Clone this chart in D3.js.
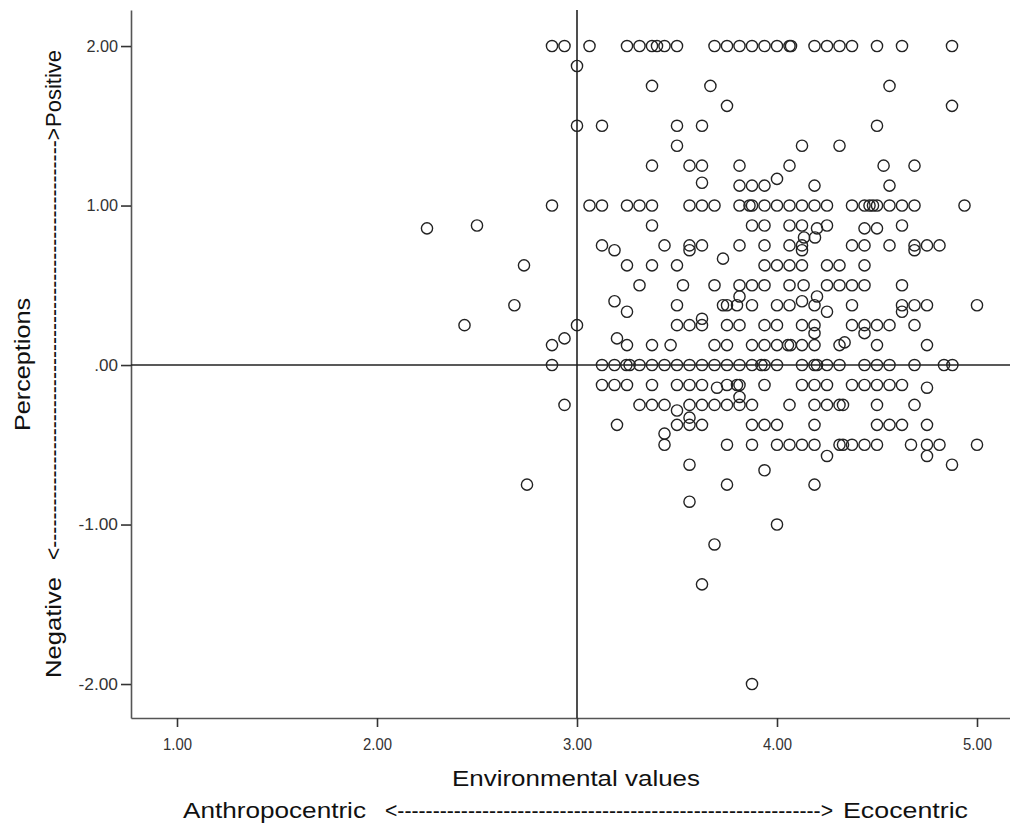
<!DOCTYPE html>
<html>
<head>
<meta charset="utf-8">
<script src="https://cdn.jsdelivr.net/npm/d3@7"></script>
<style>
  html, body { margin: 0; padding: 0; background: #fff; }
  svg { display: block; font-family: "Liberation Sans", Arial, sans-serif; }
</style>
</head>
<body>
<svg id="chart" width="1010" height="826"></svg>
<script>
// Perception levels (y) and the environmental values (x) of the respondents at each level
const perceptionLevels = [2, 1.875, 1.75, 1.625, 1.5, 1.375, 1.25, 1.167, 1.143, 1.125, 1.0,
  0.875, 0.857, 0.80, 0.75, 0.72, 0.667, 0.625, 0.5, 0.43, 0.40, 0.375, 0.334, 0.29, 0.25,
  0.20, 0.167, 0.142, 0.125, 0, -0.125, -0.142, -0.2, -0.25, -0.285, -0.33, -0.375, -0.43,
  -0.5, -0.57, -0.625, -0.66, -0.75, -0.857, -1, -1.125, -1.375, -2];

const envValuesByLevel = [
  [2.875, 2.9375, 3.0625, 3.25, 3.3125, 3.375, 3.40, 3.4375, 3.5, 3.6875, 3.75, 3.8125, 3.875, 3.9375, 4.0, 4.0625, 4.07, 4.1875, 4.25, 4.3125, 4.375, 4.5, 4.625, 4.875],
  [3.0],
  [3.375, 3.667, 4.5625],
  [3.75, 4.875],
  [3.0, 3.125, 3.5, 3.625, 4.5],
  [3.5, 4.125, 4.3125],
  [3.375, 3.5625, 3.625, 3.8125, 4.0625, 4.533, 4.6875],
  [4.0],
  [3.625],
  [3.8125, 3.875, 3.9375, 4.1875, 4.5625],
  [2.875, 3.0625, 3.125, 3.25, 3.3125, 3.375, 3.5625, 3.625, 3.6875, 3.8125, 3.8625, 3.875, 3.9375, 4.0, 4.0625, 4.125, 4.1875, 4.25, 4.375, 4.4375, 4.4625, 4.48, 4.5, 4.5625, 4.625, 4.6875, 4.9375],
  [2.5, 3.375, 3.875, 3.9375, 4.0625, 4.125, 4.25, 4.625],
  [2.25, 4.2, 4.4375, 4.5],
  [4.135, 4.19],
  [3.125, 3.4375, 3.5625, 3.625, 3.8125, 3.9375, 4.0625, 4.125, 4.375, 4.4375, 4.5625, 4.6875, 4.75, 4.8125],
  [3.1875, 3.5625, 4.125, 4.6875],
  [3.73],
  [2.735, 3.25, 3.375, 3.5, 3.9375, 4.0, 4.0625, 4.125, 4.25, 4.3125, 4.4375],
  [3.3125, 3.53, 3.6875, 3.8125, 3.875, 3.9375, 4.0625, 4.133, 4.25, 4.3125, 4.375, 4.4375, 4.625],
  [3.8125, 4.2],
  [3.1875, 4.125],
  [2.687, 3.5, 3.73, 3.75, 3.8, 3.875, 4.0, 4.0625, 4.1875, 4.375, 4.625, 4.6875, 4.75, 5.0],
  [3.25, 4.25, 4.625],
  [3.625],
  [2.4375, 3.0, 3.5, 3.5625, 3.625, 3.75, 3.8125, 3.9375, 4.0, 4.125, 4.1875, 4.375, 4.4375, 4.5, 4.5625, 4.6875],
  [4.1875, 4.4375],
  [2.9375, 3.2],
  [4.338],
  [2.875, 3.25, 3.375, 3.468, 3.6875, 3.75, 3.875, 3.9375, 4.0, 4.055, 4.068, 4.125, 4.1875, 4.3125, 4.5, 4.75],
  [2.875, 3.125, 3.1875, 3.247, 3.263, 3.3125, 3.375, 3.4375, 3.5, 3.5625, 3.625, 3.6875, 3.75, 3.8125, 3.875, 3.922, 3.9375, 4.0, 4.125, 4.1875, 4.2, 4.25, 4.3125, 4.4375, 4.5, 4.5625, 4.6875, 4.835, 4.877],
  [3.125, 3.1875, 3.25, 3.375, 3.5, 3.5625, 3.625, 3.75, 3.8, 3.8125, 3.9375, 4.125, 4.1875, 4.25, 4.375, 4.4375, 4.5, 4.5625, 4.625],
  [3.70, 4.75],
  [3.8125],
  [2.9375, 3.3125, 3.375, 3.4375, 3.5625, 3.625, 3.6875, 3.75, 3.8125, 3.875, 4.0625, 4.1875, 4.25, 4.3125, 4.33, 4.5, 4.6875],
  [3.5],
  [3.5625],
  [3.2, 3.5, 3.5625, 3.625, 3.875, 3.9375, 4.0, 4.1875, 4.5, 4.5625, 4.625, 4.75],
  [3.4375],
  [3.4375, 3.75, 3.875, 4.0, 4.0625, 4.125, 4.1875, 4.3125, 4.33, 4.375, 4.4375, 4.5, 4.67, 4.75, 4.8125, 5.0],
  [4.25, 4.75],
  [3.5625, 4.875],
  [3.9375],
  [2.75, 3.75, 4.1875],
  [3.5625],
  [4.0],
  [3.6875],
  [3.625],
  [3.875]
];

const xTicks = [1, 2, 3, 4, 5];
const yTicks = [-2, -1, 0, 1, 2];
const xDomain = [0.77, 5.165];
const yDomain = [-2.213, 2.226];
const refX = 3;   // reference line on environmental values
const refY = 0;   // reference line on perceptions

const points = [];
perceptionLevels.forEach((lvl, i) => envValuesByLevel[i].forEach(v => points.push({x: v, y: lvl})));

const svg = d3.select("#chart");
const plot = {left: 131, right: 1010, top: 10, bottom: 718};

const x = d3.scaleLinear().domain(xDomain).range([plot.left, plot.right]);
const y = d3.scaleLinear().domain(yDomain).range([plot.bottom, plot.top]);

const fmt = v => { const s = v.toFixed(2); return s === "0.00" ? ".00" : s; };

// axes
const xAxis = svg.append("g").attr("transform", `translate(0,${plot.bottom})`)
  .call(d3.axisBottom(x).tickValues(xTicks).tickFormat(fmt).tickSize(9).tickPadding(12).tickSizeOuter(0));
const yAxis = svg.append("g").attr("transform", `translate(${plot.left},0)`)
  .call(d3.axisLeft(y).tickValues(yTicks).tickFormat(fmt).tickSize(10).tickPadding(3).tickSizeOuter(0));

[xAxis, yAxis].forEach(g => {
  g.attr("font-size", null).attr("font-family", null);
  g.select(".domain").attr("stroke", "#555").attr("stroke-width", 1.6);
  g.selectAll(".tick line").attr("stroke", "#333").attr("stroke-width", 1.6);
  g.selectAll(".tick text").attr("fill", "#333")
    .style("font-size", "16px").style("font-family", "'Liberation Sans', Arial, sans-serif")
    .attr("lengthAdjust", "spacingAndGlyphs");
});
xAxis.selectAll(".tick text").attr("textLength", 29);
yAxis.selectAll(".tick text").attr("textLength", d => fmt(d).length * 7.9 - (fmt(d).startsWith(".") ? 0 : 0));

// reference lines
svg.append("line")
  .attr("x1", x(refX)).attr("x2", x(refX)).attr("y1", plot.top).attr("y2", plot.bottom)
  .attr("stroke", "#222").attr("stroke-width", 1.6);
svg.append("line")
  .attr("x1", plot.left).attr("x2", plot.right).attr("y1", y(refY)).attr("y2", y(refY))
  .attr("stroke", "#222").attr("stroke-width", 1.6);

// points
svg.append("g").selectAll("circle").data(points).join("circle")
  .attr("cx", d => x(d.x)).attr("cy", d => y(d.y)).attr("r", 5.6)
  .attr("fill", "none").attr("stroke", "#222").attr("stroke-width", 1.4);

// titles
const T = (txt, attrs) => {
  const t = svg.append("text").text(txt).attr("fill", "#111").style("font-size", "22px");
  Object.entries(attrs).forEach(([k, v]) => t.attr(k, v));
  return t;
};
T("Environmental values", {x: 452, y: 786, textLength: 248, lengthAdjust: "spacingAndGlyphs"});
T("Anthropocentric", {x: 183, y: 818, textLength: 183, lengthAdjust: "spacingAndGlyphs"});
T("<" + "-".repeat(60) + ">", {x: 385, y: 818, textLength: 448, lengthAdjust: "spacingAndGlyphs"});
T("Ecocentric", {x: 843, y: 818, textLength: 125, lengthAdjust: "spacingAndGlyphs"});

T("Perceptions", {transform: "translate(30,431) rotate(-90)", textLength: 133, lengthAdjust: "spacingAndGlyphs"});
T("Negative", {transform: "translate(61,678) rotate(-90)", textLength: 101, lengthAdjust: "spacingAndGlyphs"});
T("<" + "-".repeat(58) + ">", {transform: "translate(61,560) rotate(-90)", textLength: 432, lengthAdjust: "spacingAndGlyphs"});
T("Positive", {transform: "translate(61,127) rotate(-90)", textLength: 77, lengthAdjust: "spacingAndGlyphs"});
</script>
</body>
</html>
